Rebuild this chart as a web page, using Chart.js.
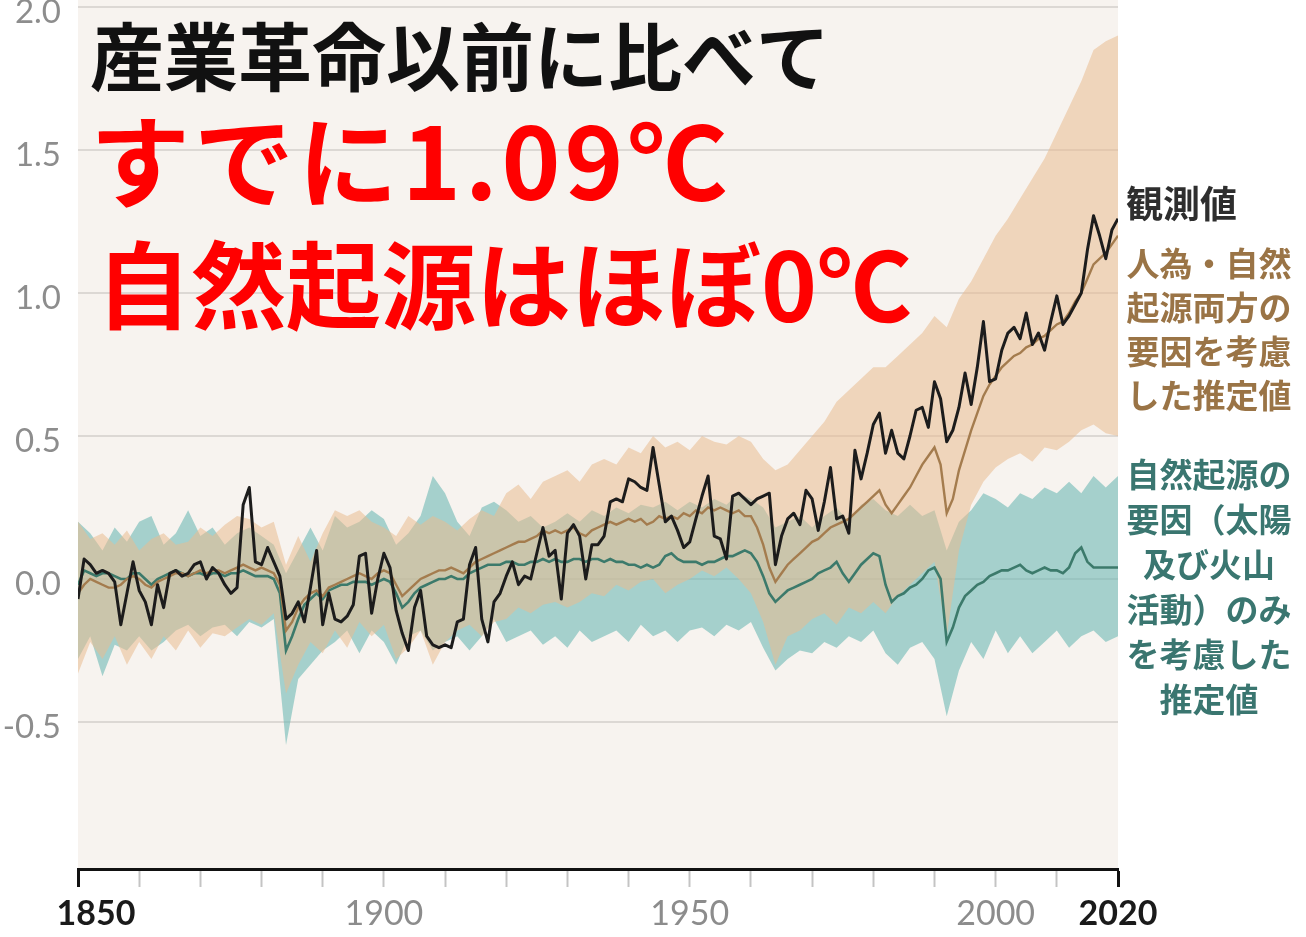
<!DOCTYPE html>
<html>
<head>
<meta charset="utf-8">
<script src="https://cdn.jsdelivr.net/npm/chart.js@4"></script>
<style>
  html, body { margin: 0; padding: 0; background: #ffffff; }
  canvas { display: block; }
</style>
</head>
<body>
<canvas id="chart" width="1306" height="937"></canvas>
<script>
// Global surface temperature change relative to 1850-1900 (°C)
const firstYear = 1850;
const years = Array.from({ length: 171 }, (_, i) => firstYear + i);
const bandYears = Array.from({ length: 86 }, (_, i) => firstYear + 2 * i);

// Observed annual anomalies
const observed = [
  -0.07, 0.07, 0.05, 0.02, 0.03, 0.02, -0.01, -0.16, -0.05, 0.06,
  -0.04, -0.08, -0.16, -0.02, -0.10, 0.02, 0.03, 0.01, 0.02, 0.05,
  0.06, 0.00, 0.04, 0.02, -0.02, -0.05, -0.03, 0.26, 0.32, 0.06,
  0.05, 0.11, 0.06, 0.01, -0.14, -0.12, -0.08, -0.15, -0.03, 0.10,
  -0.16, -0.05, -0.14, -0.15, -0.13, -0.09, 0.08, 0.09, -0.12, 0.00,
  0.09, 0.04, -0.11, -0.19, -0.25, -0.10, -0.04, -0.20, -0.23, -0.24,
  -0.23, -0.24, -0.15, -0.14, 0.05, 0.11, -0.14, -0.22, -0.08, -0.05,
  0.01, 0.06, -0.02, 0.01, 0.00, 0.09, 0.18, 0.08, 0.10, -0.07,
  0.16, 0.19, 0.15, 0.00, 0.12, 0.12, 0.15, 0.27, 0.28, 0.27,
  0.35, 0.34, 0.32, 0.31, 0.46, 0.33, 0.20, 0.22, 0.17, 0.11,
  0.13, 0.21, 0.29, 0.36, 0.15, 0.14, 0.07, 0.29, 0.30, 0.28,
  0.26, 0.28, 0.29, 0.30, 0.05, 0.15, 0.21, 0.23, 0.19, 0.31,
  0.28, 0.17, 0.27, 0.39, 0.21, 0.22, 0.16, 0.45, 0.35, 0.44,
  0.54, 0.58, 0.44, 0.52, 0.44, 0.42, 0.50, 0.59, 0.60, 0.53,
  0.69, 0.63, 0.48, 0.52, 0.60, 0.72, 0.61, 0.74, 0.90, 0.69,
  0.70, 0.80, 0.86, 0.88, 0.84, 0.93, 0.82, 0.86, 0.80, 0.90,
  0.99, 0.89, 0.92, 0.96, 1.00, 1.15, 1.27, 1.20, 1.12, 1.22,
  1.26
];

// Simulated mean: human and natural forcing
const humanNatural = [
  -0.05, -0.02, 0.00, -0.01, -0.02, -0.03, -0.03, -0.02, 0.00, 0.01,
  0.00, -0.02, -0.03, -0.01, 0.00, 0.01, 0.02, 0.02, 0.01, 0.02,
  0.03, 0.02, 0.03, 0.03, 0.02, 0.03, 0.04, 0.05, 0.04, 0.03,
  0.04, 0.03, 0.02, -0.02, -0.18, -0.15, -0.10, -0.07, -0.05, -0.04,
  -0.06, -0.03, -0.02, -0.01, 0.00, 0.01, 0.02, 0.01, 0.00, 0.02,
  0.03, 0.02, -0.02, -0.06, -0.04, -0.02, 0.00, 0.01, 0.02, 0.03,
  0.03, 0.04, 0.03, 0.02, 0.04, 0.06, 0.07, 0.08, 0.09, 0.10,
  0.11, 0.12, 0.13, 0.13, 0.14, 0.15, 0.17, 0.16, 0.17, 0.16,
  0.17, 0.18, 0.16, 0.15, 0.17, 0.18, 0.19, 0.20, 0.19, 0.20,
  0.21, 0.20, 0.21, 0.19, 0.20, 0.22, 0.21, 0.22, 0.21, 0.23,
  0.22, 0.24, 0.23, 0.25, 0.24, 0.25, 0.24, 0.23, 0.24, 0.22,
  0.22, 0.18, 0.12, 0.04, -0.01, 0.02, 0.05, 0.07, 0.09, 0.11,
  0.13, 0.14, 0.16, 0.18, 0.19, 0.20, 0.21, 0.23, 0.25, 0.27,
  0.29, 0.31, 0.26, 0.23, 0.26, 0.29, 0.32, 0.36, 0.40, 0.43,
  0.46, 0.40, 0.23, 0.28, 0.38, 0.45, 0.52, 0.58, 0.64, 0.68,
  0.71, 0.74, 0.76, 0.78, 0.79, 0.81, 0.82, 0.84, 0.85, 0.87,
  0.89, 0.90, 0.93, 0.97, 1.00, 1.05, 1.10, 1.12, 1.14, 1.17,
  1.20
];

// Simulated mean: natural forcing only (solar and volcanic)
const naturalOnly = [
  -0.02, 0.03, 0.02, 0.01, 0.02, 0.02, 0.01, 0.00, 0.00, 0.02,
  0.02, 0.00, -0.02, 0.00, 0.01, 0.02, 0.03, 0.02, 0.01, 0.02,
  0.02, 0.01, 0.02, 0.02, 0.01, 0.02, 0.02, 0.03, 0.02, 0.01,
  0.01, 0.01, 0.00, -0.05, -0.25, -0.20, -0.14, -0.09, -0.07, -0.05,
  -0.07, -0.04, -0.03, -0.02, -0.02, -0.01, -0.01, -0.01, -0.02, -0.01,
  0.00, -0.01, -0.05, -0.10, -0.08, -0.05, -0.03, -0.02, -0.01, 0.00,
  0.00, 0.01, 0.00, 0.00, 0.02, 0.03, 0.04, 0.05, 0.05, 0.05,
  0.06, 0.06, 0.05, 0.05, 0.06, 0.06, 0.07, 0.06, 0.07, 0.06,
  0.06, 0.07, 0.07, 0.06, 0.07, 0.07, 0.06, 0.07, 0.06, 0.06,
  0.05, 0.05, 0.04, 0.05, 0.04, 0.05, 0.08, 0.09, 0.07, 0.06,
  0.06, 0.06, 0.05, 0.06, 0.06, 0.07, 0.08, 0.08, 0.09, 0.10,
  0.09, 0.06, 0.01, -0.05, -0.08, -0.06, -0.04, -0.03, -0.02, -0.01,
  0.00, 0.02, 0.03, 0.04, 0.06, 0.02, -0.01, 0.02, 0.05, 0.07,
  0.09, 0.08, -0.02, -0.08, -0.06, -0.05, -0.03, -0.02, 0.00, 0.03,
  0.04, 0.00, -0.22, -0.17, -0.10, -0.06, -0.04, -0.02, -0.01, 0.01,
  0.02, 0.03, 0.03, 0.04, 0.05, 0.03, 0.02, 0.03, 0.04, 0.03,
  0.03, 0.02, 0.04, 0.09, 0.11, 0.06, 0.04, 0.04, 0.04, 0.04,
  0.04
];

// Very likely ranges (every second year)
const humanHigh = [
  0.20, 0.14, 0.16, 0.12, 0.17, 0.10, 0.14, 0.16, 0.12, 0.13,
  0.18, 0.15, 0.19, 0.22, 0.21, 0.18, 0.20, 0.05, 0.15, 0.06,
  0.16, 0.24, 0.22, 0.24, 0.20, 0.18, 0.15, 0.22, 0.19, 0.22,
  0.20, 0.17, 0.21, 0.24, 0.22, 0.30, 0.33, 0.28, 0.34, 0.36,
  0.38, 0.34, 0.40, 0.42, 0.40, 0.46, 0.44, 0.50, 0.46, 0.48,
  0.45, 0.50, 0.48, 0.47, 0.50, 0.48, 0.42, 0.38, 0.40, 0.45,
  0.50, 0.55, 0.62, 0.66, 0.70, 0.74, 0.74, 0.78, 0.82, 0.86,
  0.92, 0.88, 0.98, 1.04, 1.12, 1.20, 1.26, 1.33, 1.40, 1.47,
  1.56, 1.65, 1.74, 1.85, 1.88, 1.90
];
const humanLow = [
  -0.33, -0.22, -0.28, -0.20, -0.30, -0.22, -0.28, -0.20, -0.25, -0.18,
  -0.24, -0.19, -0.20, -0.17, -0.14, -0.16, -0.12, -0.40, -0.30, -0.22,
  -0.26, -0.18, -0.24, -0.15, -0.20, -0.16, -0.28, -0.24, -0.18, -0.30,
  -0.22, -0.18, -0.16, -0.20, -0.15, -0.14, -0.10, -0.12, -0.09, -0.08,
  -0.10, -0.08, -0.05, -0.06, -0.02, -0.04, -0.01, 0.00, -0.05, -0.02,
  0.00, 0.03, 0.01, 0.04, 0.00, -0.05, -0.15, -0.30, -0.20, -0.18,
  -0.14, -0.12, -0.16, -0.10, -0.12, -0.08, -0.12, -0.06, -0.02, 0.02,
  0.06, -0.20, 0.10, 0.26, 0.34, 0.39, 0.42, 0.44, 0.41, 0.46,
  0.45, 0.48, 0.52, 0.54, 0.51, 0.50
];
const naturalHigh = [
  0.20, 0.16, 0.10, 0.18, 0.13, 0.20, 0.22, 0.12, 0.16, 0.24,
  0.15, 0.18, 0.12, 0.16, 0.18, 0.15, 0.12, 0.02, 0.10, 0.18,
  0.10, 0.22, 0.18, 0.20, 0.24, 0.21, 0.12, 0.16, 0.22, 0.36,
  0.30, 0.20, 0.15, 0.25, 0.27, 0.24, 0.20, 0.22, 0.18, 0.20,
  0.23, 0.20, 0.24, 0.22, 0.25, 0.23, 0.26, 0.25, 0.27, 0.24,
  0.27, 0.25, 0.28, 0.26, 0.30, 0.28, 0.25, 0.18, 0.20, 0.22,
  0.18, 0.22, 0.25, 0.20, 0.26, 0.28, 0.24, 0.22, 0.26, 0.22,
  0.24, 0.10, 0.20, 0.24, 0.30, 0.28, 0.25, 0.30, 0.28, 0.32,
  0.30, 0.34, 0.30, 0.36, 0.32, 0.36
];
const naturalLow = [
  -0.28, -0.20, -0.34, -0.23, -0.25, -0.20, -0.25, -0.22, -0.18, -0.16,
  -0.20, -0.17, -0.16, -0.20, -0.15, -0.17, -0.14, -0.58, -0.35, -0.30,
  -0.25, -0.22, -0.18, -0.26, -0.18, -0.22, -0.30, -0.20, -0.18, -0.25,
  -0.22, -0.20, -0.25, -0.20, -0.14, -0.22, -0.20, -0.18, -0.23, -0.20,
  -0.24, -0.18, -0.22, -0.20, -0.18, -0.22, -0.16, -0.20, -0.18, -0.22,
  -0.18, -0.17, -0.20, -0.16, -0.18, -0.15, -0.24, -0.32, -0.28, -0.25,
  -0.26, -0.22, -0.24, -0.20, -0.22, -0.18, -0.26, -0.30, -0.24, -0.22,
  -0.28, -0.48, -0.32, -0.22, -0.28, -0.18, -0.26, -0.20, -0.26, -0.22,
  -0.18, -0.24, -0.20, -0.18, -0.22, -0.20
];

// Axis ticks
const xTickYears = [1850, 1860, 1870, 1880, 1890, 1900, 1910, 1920, 1930, 1940,
                    1950, 1960, 1970, 1980, 1990, 2000, 2010, 2020];
const xLabelYears = [1850, 1900, 1950, 2000, 2020];
const boldYears = [1850, 2020];
const yTicks = [-0.5, 0, 0.5, 1, 1.5, 2];

// Text
const headline = ['産業革命以前に比べて', 'すでに1.09℃', '自然起源はほぼ0℃'];
const observedLabel = '観測値';
const humanLabel = ['人為・自然', '起源両方の', '要因を考慮', 'した推定値'];
const naturalLabel = ['自然起源の', '要因（太陽', '及び火山', '活動）のみ', 'を考慮した', '推定値'];

const pts = (xs, ys) => xs.map((x, i) => ({ x, y: ys[i] }));
const CJK = '"Noto Sans CJK JP", "Noto Sans CJK SC", sans-serif';
const LATIN = 'Lato, "Open Sans", sans-serif';

// Plot background behind everything
const backdrop = {
  id: 'backdrop',
  beforeDraw(chart) {
    const { ctx, chartArea: a } = chart;
    ctx.save();
    ctx.fillStyle = '#ffffff';
    ctx.fillRect(0, 0, chart.width, chart.height);
    ctx.fillStyle = '#f7f3ef';
    ctx.fillRect(a.left, 0, a.right - a.left, a.bottom);
    ctx.restore();
  }
};

// Axis labels placed from the scales, plus headline and series notes
const annotations = {
  id: 'annotations',
  afterDraw(chart) {
    const { ctx } = chart;
    const xs = chart.scales.x, ys = chart.scales.y;
    ctx.save();

    // y tick labels
    ctx.textAlign = 'right';
    ctx.textBaseline = 'alphabetic';
    ctx.fillStyle = '#8d8d8d';
    ctx.font = '33px ' + LATIN;
    yTicks.forEach(v => ctx.fillText(v.toFixed(1), 61, ys.getPixelForValue(v) + 16));

    // x tick labels
    ctx.textAlign = 'center';
    xLabelYears.forEach(yr => {
      const bold = boldYears.includes(yr);
      ctx.font = (bold ? 'bold ' : '') + '34px ' + LATIN;
      ctx.fillStyle = bold ? '#1a1a1a' : '#8c8c8c';
      const shift = yr === 1850 ? 18 : 0;
      ctx.fillText(String(yr), xs.getPixelForValue(yr) + shift, 925);
    });

    // headline
    ctx.textAlign = 'left';
    ctx.textBaseline = 'middle';
    ctx.fillStyle = '#111111';
    ctx.font = 'bold 74px ' + CJK;
    ctx.fillText(headline[0], 90, 57);

    ctx.fillStyle = '#ff0000';
    ctx.font = 'bold 100px ' + CJK;
    ctx.letterSpacing = '4px';
    ctx.fillText(headline[1], 90, 162);
    ctx.letterSpacing = '0px';
    ctx.font = 'bold 95px ' + CJK;
    ctx.fillText(headline[2], 96, 286);

    // series notes
    ctx.fillStyle = '#2e2e2e';
    ctx.font = 'bold 37px ' + CJK;
    ctx.fillText(observedLabel, 1126, 204);

    ctx.textAlign = 'center';
    ctx.font = 'bold 33px ' + CJK;
    ctx.fillStyle = '#9a7446';
    humanLabel.forEach((t, i) => ctx.fillText(t, 1209, 263 + i * 44));
    ctx.fillStyle = '#3a7670';
    naturalLabel.forEach((t, i) => ctx.fillText(t, 1209, 474 + i * 45));
    ctx.restore();
  }
};

Chart.defaults.font.family = LATIN;

new Chart(document.getElementById('chart'), {
  type: 'line',
  data: {
    datasets: [
      { label: '観測値', data: pts(years, observed), borderColor: '#1c1c1c', borderWidth: 3,
        pointRadius: 0, fill: false, borderJoinStyle: 'round' },
      { label: '人為・自然起源両方の要因を考慮した推定値', data: pts(years, humanNatural),
        borderColor: '#a47c4e', borderWidth: 2.4, pointRadius: 0, fill: false },
      { label: '自然起源の要因のみを考慮した推定値', data: pts(years, naturalOnly),
        borderColor: '#3c7a6b', borderWidth: 2.6, pointRadius: 0, fill: false },
      { label: 'human high', data: pts(bandYears, humanHigh), borderWidth: 0, pointRadius: 0,
        fill: 4, backgroundColor: 'rgba(234,187,144,0.55)' },
      { label: 'human low', data: pts(bandYears, humanLow), borderWidth: 0, pointRadius: 0, fill: false },
      { label: 'natural high', data: pts(bandYears, naturalHigh), borderWidth: 0, pointRadius: 0,
        fill: 6, backgroundColor: 'rgba(110,185,180,0.6)' },
      { label: 'natural low', data: pts(bandYears, naturalLow), borderWidth: 0, pointRadius: 0, fill: false }
    ]
  },
  options: {
    responsive: false,
    animation: false,
    devicePixelRatio: 1,
    layout: { autoPadding: false, padding: { left: 0, right: 188, top: 7, bottom: 0 } },
    plugins: { legend: { display: false }, tooltip: { enabled: false } },
    scales: {
      x: {
        type: 'linear', min: 1850, max: 2020,
        afterBuildTicks: s => { s.ticks = xTickYears.map(v => ({ value: v })); },
        afterFit: s => { s.height = 68; },
        border: { display: true, color: '#111111', width: 3 },
        grid: {
          drawOnChartArea: false, drawTicks: true, tickLength: 18,
          tickColor: c => (c.tick && boldYears.includes(c.tick.value)) ? '#111111' : '#c4c4c4',
          tickWidth: c => (c.tick && boldYears.includes(c.tick.value)) ? 3 : 2
        },
        ticks: { display: false }
      },
      y: {
        type: 'linear', min: -1.014, max: 2.0,
        afterBuildTicks: s => { s.ticks = yTicks.map(v => ({ value: v })); },
        afterFit: s => { s.width = 78; },
        border: { display: false },
        grid: { drawTicks: false, color: '#dcd8d4', lineWidth: 2 },
        ticks: { display: false }
      }
    }
  },
  plugins: [backdrop, annotations]
});
</script>
</body>
</html>
